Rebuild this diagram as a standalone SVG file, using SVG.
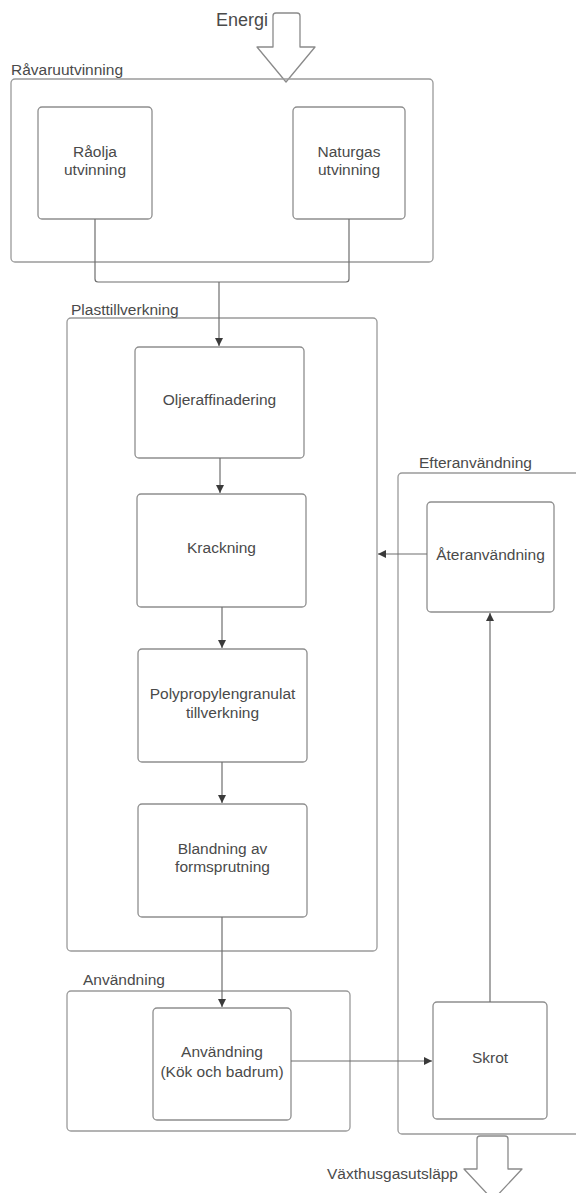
<svg xmlns="http://www.w3.org/2000/svg" width="576" height="1193" viewBox="0 0 576 1193">
  <style>
    .frame { fill: none; stroke: #9a9a9a; stroke-width: 1.3; }
    .box { fill: #ffffff; stroke: #8e8e8e; stroke-width: 1.3; }
    .txt { font-family: "Liberation Sans", Arial, sans-serif; font-size: 15.5px; fill: #4a4a4a; }
    .mid { text-anchor: middle; }
    .end { text-anchor: end; }
    .link { fill: none; stroke: #6e6e6e; stroke-width: 1.2; }
    .big { fill: #ffffff; stroke: #8a8a8a; stroke-width: 1.3; stroke-linejoin: round; }
  </style>
  <defs>
    <marker id="head" viewBox="0 0 10 10" refX="10" refY="5" markerWidth="8" markerHeight="8" markerUnits="userSpaceOnUse" orient="auto">
      <path d="M0,0 L10,5 L0,10 Z" fill="#3a3a3a"/>
    </marker>
  </defs>
  <rect width="576" height="1193" fill="#ffffff"/>

  <!-- energy input arrow -->
  <g id="energi">
    <path class="big" d="M276,13 L297,13 Q300,13 300,16 L300,47 L315,47 L286,82 L257,47 L273,47 L273,16 Q273,13 276,13 Z"/>
    <text class="txt end" x="268" y="26" style="font-size:18px">Energi</text>
  </g>

  <!-- raw material extraction -->
  <g id="ravaruutvinning">
    <rect class="frame" x="11" y="79" width="422" height="183" rx="4"/>
    <text class="txt" x="11" y="75">Råvaruutvinning</text>
  </g>
  <g id="raolja">
    <rect class="box" x="38" y="107" width="114" height="112" rx="4"/>
    <text class="txt mid" x="95" y="157">Råolja</text>
    <text class="txt mid" x="95" y="175">utvinning</text>
  </g>
  <g id="naturgas">
    <rect class="box" x="293" y="107" width="112" height="112" rx="4"/>
    <text class="txt mid" x="349" y="157">Naturgas</text>
    <text class="txt mid" x="349" y="175">utvinning</text>
  </g>

  <!-- plastic manufacturing -->
  <g id="plasttillverkning">
    <rect class="frame" x="67" y="318" width="310" height="633" rx="4"/>
    <text class="txt" x="71" y="315">Plasttillverkning</text>
  </g>
  <g id="oljeraffinadering">
    <rect class="box" x="135" y="347" width="169" height="111" rx="4"/>
    <text class="txt mid" x="219.5" y="405">Oljeraffinadering</text>
  </g>
  <g id="krackning">
    <rect class="box" x="137" y="494" width="169" height="113" rx="4"/>
    <text class="txt mid" x="221.5" y="553">Krackning</text>
  </g>
  <g id="polypropylen">
    <rect class="box" x="138" y="649" width="169" height="113" rx="4"/>
    <text class="txt mid" x="222.5" y="699">Polypropylengranulat</text>
    <text class="txt mid" x="222.5" y="718">tillverkning</text>
  </g>
  <g id="blandning">
    <rect class="box" x="138" y="804" width="169" height="113" rx="4"/>
    <text class="txt mid" x="222.5" y="854">Blandning av</text>
    <text class="txt mid" x="222.5" y="872">formsprutning</text>
  </g>

  <!-- use phase -->
  <g id="anvandning-grupp">
    <rect class="frame" x="67" y="991" width="283" height="140" rx="4"/>
    <text class="txt" x="83" y="985">Användning</text>
  </g>
  <g id="anvandning">
    <rect class="box" x="153" y="1008" width="138" height="112" rx="4"/>
    <text class="txt mid" x="222" y="1057">Användning</text>
    <text class="txt mid" x="222" y="1077">(Kök och badrum)</text>
  </g>

  <!-- after use -->
  <g id="efteranvandning">
    <rect class="frame" x="398" y="473" width="190" height="661" rx="4"/>
    <text class="txt" x="419" y="468">Efteranvändning</text>
  </g>
  <g id="ateranvandning">
    <rect class="box" x="427" y="502" width="127" height="110" rx="4"/>
    <text class="txt mid" x="490.5" y="560">Återanvändning</text>
  </g>
  <g id="skrot">
    <rect class="box" x="433" y="1002" width="114" height="117" rx="4"/>
    <text class="txt mid" x="490" y="1063">Skrot</text>
  </g>

  <!-- emissions output arrow -->
  <g id="vaxthusgas">
    <path class="big" d="M480,1136 L505,1136 Q508,1136 508,1139 L508,1169 L522,1169 L493,1200 L464,1169 L477,1169 L477,1139 Q477,1136 480,1136 Z"/>
    <text class="txt end" x="458" y="1179">Växthusgasutsläpp</text>
  </g>

  <!-- flows -->
  <g id="connectors">
    <path class="link" d="M95,219 L95,279 Q95,282 98,282 L346,282 Q349,282 349,279 L349,219"/>
    <path class="link" d="M219,282 L219,346" marker-end="url(#head)"/>
    <path class="link" d="M220,458 L220,493" marker-end="url(#head)"/>
    <path class="link" d="M222,607 L222,648" marker-end="url(#head)"/>
    <path class="link" d="M222,762 L222,803" marker-end="url(#head)"/>
    <path class="link" d="M222,917 L222,1007" marker-end="url(#head)"/>
    <path class="link" d="M291,1061 L432,1061" marker-end="url(#head)"/>
    <path class="link" d="M490,1002 L490,613" marker-end="url(#head)"/>
    <path class="link" d="M427,554 L378,554" marker-end="url(#head)"/>
  </g>
</svg>
